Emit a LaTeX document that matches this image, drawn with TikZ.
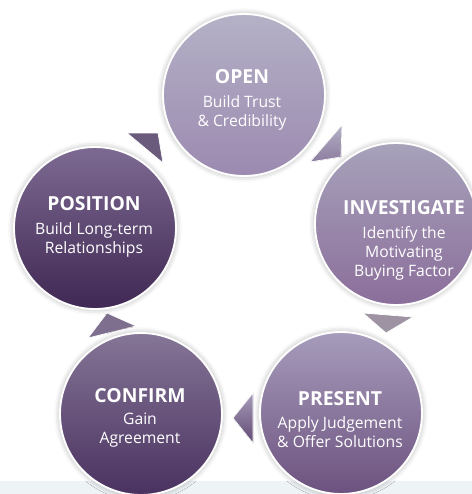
\documentclass[tikz,border=0pt]{standalone}
\usepackage{fontspec}
\setmainfont{Open Sans}
\usetikzlibrary{positioning, shadows.blur}
\definecolor{openhi}{HTML}{B4B1C6}
\definecolor{openlo}{HTML}{9C8AB0}
\definecolor{invhi}{HTML}{A7A2BA}
\definecolor{invlo}{HTML}{8B6E9B}
\definecolor{preshi}{HTML}{A79CBB}
\definecolor{preslo}{HTML}{6C527F}
\definecolor{confhi}{HTML}{857596}
\definecolor{conflo}{HTML}{4A3260}
\definecolor{poshi}{HTML}{7D6A92}
\definecolor{poslo}{HTML}{3F2853}
\definecolor{bandgray}{HTML}{EEF3F6}
\tikzset{
  stage/.style={circle, minimum size=4.86cm, inner sep=0pt, draw=white, line width=1.6pt,
    blur shadow={shadow xshift=0pt, shadow yshift=0pt, shadow blur radius=5pt, shadow opacity=35}},
  ttl/.style={anchor=base, inner sep=0pt, text=white, font=\fontsize{16.5}{19}\selectfont\bfseries},
  sub/.style={anchor=north, inner sep=0pt, align=center, text=white, font=\fontsize{13.4}{16.2}\selectfont},
  tri/.style={draw=white, line width=0.6pt}
}
\begin{document}
\begin{tikzpicture}[x=0.03cm, y=-0.03cm]
        \useasboundingbox (0,0) rectangle (472,494);
        % bottom band
        \fill[bandgray] (0,481) rectangle (472,494);
        % Arrows
        \filldraw[tri, top color=openhi, bottom color=openlo!90!black]
          (310,162) -- (342,125) -- (341,157) -- cycle;
        \filldraw[tri, fill=invlo!45!gray!80]
          (363,313) -- (413,317) -- (386,333) -- cycle;
        \filldraw[tri, top color=preshi, bottom color=preslo!90!black]
          (253,393) -- (233,418) -- (253,443) -- cycle;
        \filldraw[tri, fill=confhi!95!black]
          (88,338) -- (107,313) -- (136,326) -- cycle;
        \filldraw[tri, fill=poshi!85!black]
          (127,133) -- (158,133) -- (163,163) -- cycle;
        % Open
        \node[stage, top color=openhi, bottom color=openlo] (open) at (244,95) {};
        \node[ttl] (opent) at (242,83) {OPEN};
        \node[sub] (opens) at (242,95) {Build Trust\\\& Credibility};
        % Investigate
        \node[stage, top color=invhi, bottom color=invlo] (inv) at (396,224) {};
        \node[ttl] (invt) at (404,214) {INVESTIGATE};
        \node[sub] (invs) at (404,226) {Identify the\\Motivating\\Buying Factor};
        % Present
        \node[stage, top color=preshi, bottom color=preslo] (pres) at (341,413) {};
        \node[ttl] (prest) at (340,405) {PRESENT};
        \node[sub] (press) at (340,416) {Apply Judgement\\\& Offer Solutions};
        % Confirm
        \node[stage, top color=confhi, bottom color=conflo] (conf) at (141,414) {};
        \node[ttl] (conft) at (140,402) {CONFIRM};
        \node[sub] (confs) at (140,413) {Gain\\Agreement};
        % Position
        \node[stage, top color=poshi, bottom color=poslo] (pos) at (95,228) {};
        \node[ttl] (post) at (94,210) {POSITION};
        \node[sub] (poss) at (94,222) {Build Long-term\\Relationships};
      \end{tikzpicture}
\end{document}
